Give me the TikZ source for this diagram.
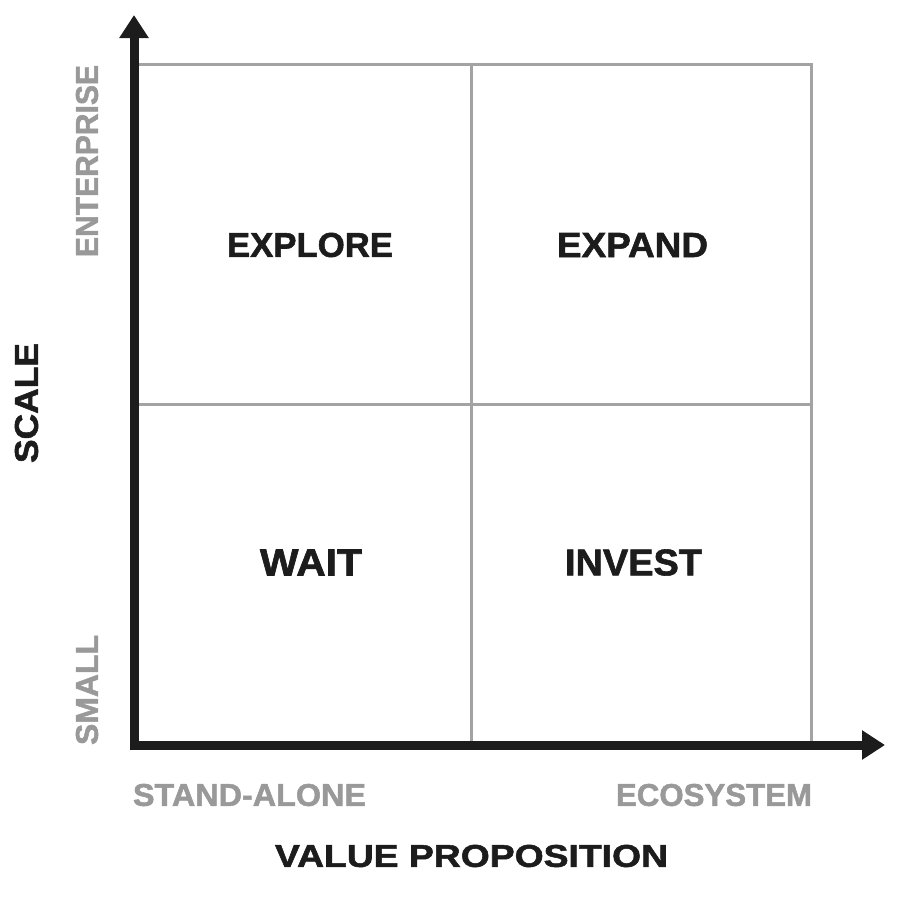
\documentclass[tikz,border=0pt]{standalone}
\usepackage{fontspec}
\setmainfont{Liberation Sans}[BoldFeatures={FakeBold=1.6}]
\usetikzlibrary{arrows.meta}
\definecolor{axisblack}{HTML}{1C1C1C}
\definecolor{gridgray}{HTML}{A3A3A3}
\definecolor{labelgray}{HTML}{999999}
\newcommand{\fitbox}[3]{\resizebox{#1pt}{#2pt}{\bfseries #3}}
\begin{document}
\begin{tikzpicture}[x=1pt,y=-1pt,
  gridline/.style={draw=gridgray,line width=3pt},
  axisline/.style={draw=axisblack,line width=9pt,line join=miter,
    {Triangle[width=28pt,length=23pt]}-{Triangle[width=28pt,length=23pt]}},
  quad/.style={inner sep=0pt,text=axisblack},
  axtitle/.style={inner sep=0pt,text=axisblack},
  endlabel/.style={inner sep=0pt,text=labelgray}]
\useasboundingbox (0,0) rectangle (902,900);
% grid corners
\coordinate (O) at (134,745);
\coordinate (TL) at (134,64);
\coordinate (TR) at (811,64);
\coordinate (BR) at (811,745);
\coordinate (MT) at (471,64);
\coordinate (MB) at (471,745);
\coordinate (ML) at (134,404);
\coordinate (MR) at (811,404);
\coordinate (ytip) at (134,15);
\coordinate (xtip) at (885,745);
% grid
\draw[gridline] (TL) -- (TR) -- (BR);
\draw[gridline] (MT) -- (MB);
\draw[gridline] (ML) -- (MR);
% axes
\draw[axisline] (ytip) -- (O) -- (xtip);
% quadrant labels
\node[quad] (explore) at (310,245) {\fitbox{166}{24}{EXPLORE}};
\node[quad] (expand) at (632.5,245) {\fitbox{151}{24}{EXPAND}};
\node[quad] (wait) at (311,562.5) {\fitbox{102}{26}{WAIT}};
\node[quad] (invest) at (633.5,562.5) {\fitbox{137}{26}{INVEST}};
% axis titles
\node[axtitle] (xtitle) at (471.5,856) {\fitbox{393}{22}{VALUE PROPOSITION}};
\node[axtitle,rotate=90] (ytitle) at (26.5,403) {\fitbox{120}{23}{SCALE}};
% end labels
\node[endlabel,rotate=90] (enterprise) at (87,161) {\fitbox{192}{22}{ENTERPRISE}};
\node[endlabel,rotate=90] (small) at (87,690) {\fitbox{110}{22}{SMALL}};
\node[endlabel] (standalone) at (249.5,795) {\fitbox{233}{22}{STAND-ALONE}};
\node[endlabel] (ecosystem) at (714,795) {\fitbox{196}{22}{ECOSYSTEM}};
\end{tikzpicture}
\end{document}
